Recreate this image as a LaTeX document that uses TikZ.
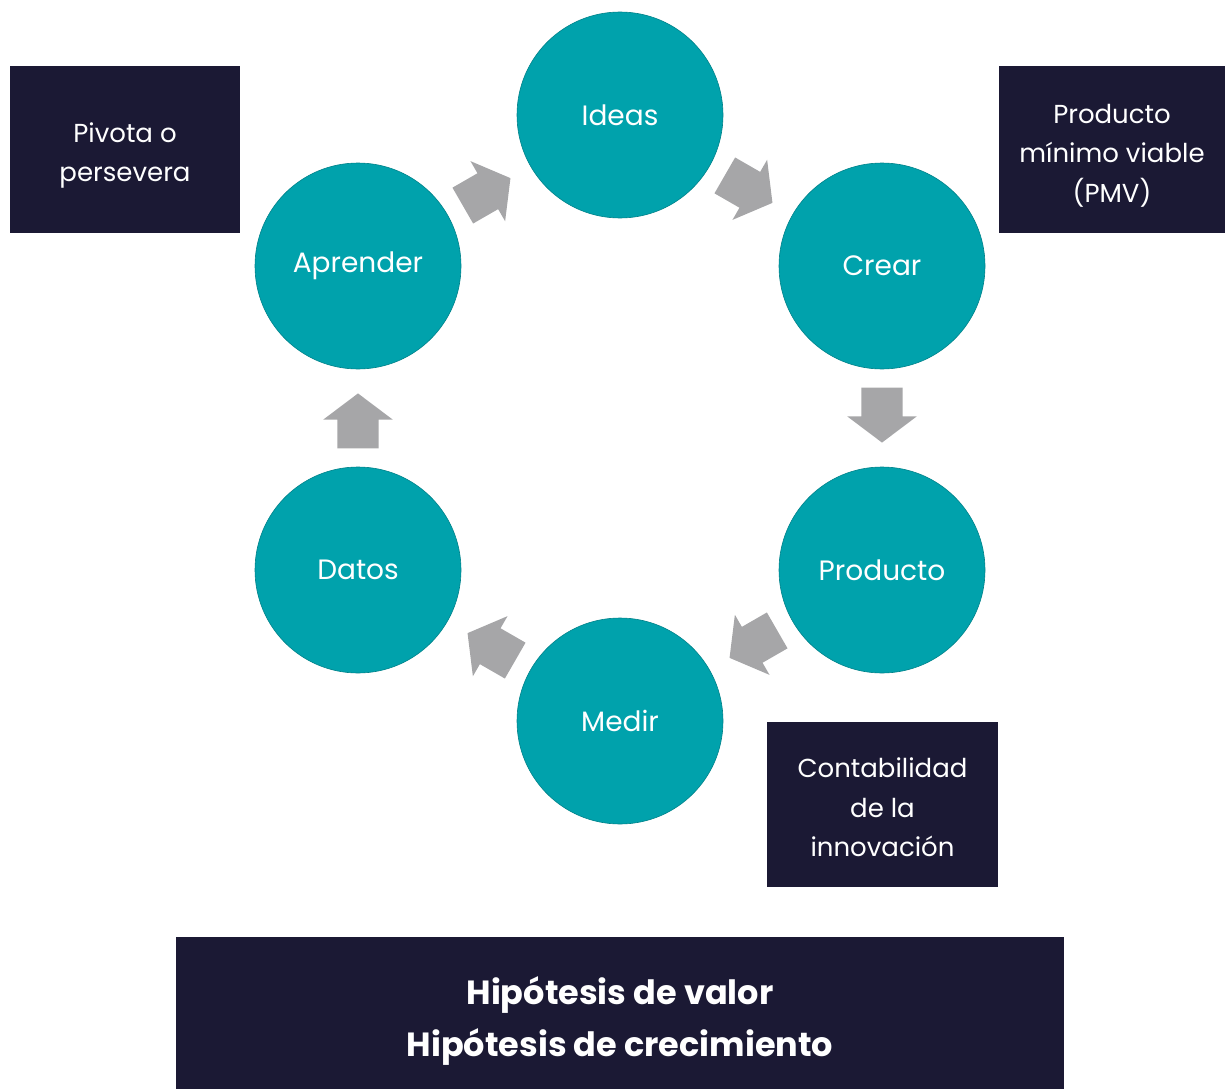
\documentclass[tikz,border=0pt]{standalone}
\usepackage{fontspec}
\setmainfont{Poppins}
\usepackage{tikz}
\usetikzlibrary{shapes,arrows,positioning}

\definecolor{turquesa}{RGB}{0,162,172}
\definecolor{marino}{RGB}{27,25,52}
\definecolor{gris}{RGB}{166,166,168}

\begin{document}
\begin{tikzpicture}[x=1pt,y=-1pt,
    etapa/.style={circle, fill=turquesa, draw=turquesa!80!black, line width=0.6pt,
        minimum size=206pt, inner sep=0pt, text=white, font=\fontsize{28}{34}\selectfont},
    nota/.style={rectangle, fill=marino, inner sep=0pt},
    notatexto/.style={text=white, inner sep=0pt, align=center,
        font=\fontsize{26}{39.5}\selectfont},
    flecha/.style={single arrow, fill=gris, draw=none, inner xsep=0pt, inner ysep=20.5pt,
        minimum height=55pt, single arrow head extend=14pt,
        single arrow tip angle=106, sloped, allow upside down, pos=0.39}
    ]
    \useasboundingbox (0,0) rectangle (1225,1089);

    \node[etapa] (ideas)    at (620,115) {Ideas};
    \node[etapa] (crear)    at (882,266) {Crear};
    \node[etapa] (producto) at (882,570) {Producto};
    \node[etapa] (medir)    at (620,721) {Medir};
    \node[etapa] (datos)    at (358,570) {Datos};
    \node[etapa] (aprender) at (358,266) {Aprender};

    \path (ideas) -- node[flecha] (f1) {} (crear);
    \path (crear) -- node[flecha] (f2) {} (producto);
    \path (producto) -- node[flecha] (f3) {} (medir);
    \path (medir) -- node[flecha] (f4) {} (datos);
    \path (datos) -- node[flecha] (f5) {} (aprender);
    \path (aprender) -- node[flecha] (f6) {} (ideas);

    \node[nota, minimum width=230pt, minimum height=167pt] (pivota) at (125,149.5) {};
    \node[notatexto] (pivotatexto) at ([yshift=-6pt]pivota) {Pivota o\\persevera};
    \node[nota, minimum width=226pt, minimum height=167pt] (pmv) at (1112,149.5) {};
    \node[notatexto] (pmvtexto) at ([yshift=-6pt]pmv) {Producto\\mínimo viable\\(PMV)};
    \node[nota, minimum width=231pt, minimum height=165pt] (contabilidad) at (882.5,804.5) {};
    \node[notatexto] (contabilidadtexto) at ([yshift=-3pt]contabilidad)
        {Contabilidad\\de la\\innovación};
    \node[nota, minimum width=888pt, minimum height=152pt] (hipotesis) at (620,1013) {};
    \node[notatexto, font=\bfseries\fontsize{33.5}{52}\selectfont] (hipotesistexto)
        at ([yshift=-8pt]hipotesis) {Hipótesis de valor\\Hipótesis de crecimiento};
\end{tikzpicture}
\end{document}
